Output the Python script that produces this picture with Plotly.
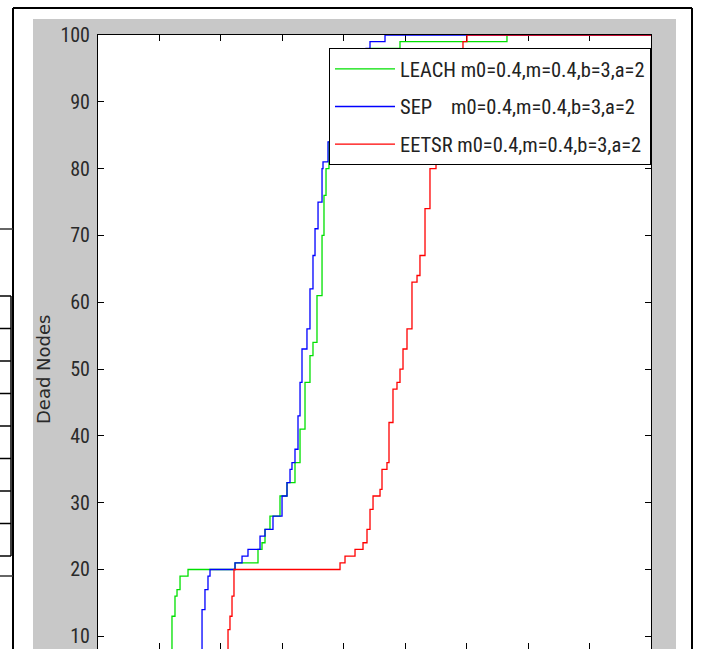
import plotly.graph_objects as go

# Simulation rounds and cumulative dead nodes for each protocol
leach_rounds = [0, 1204, 1253, 1286, 1335, 1465, 2230, 2604, 2669, 2718, 2799, 2962, 3076, 3206, 3288,
                3369, 3450, 3499, 3564, 3646, 3678, 3711, 3759, 3857, 3971, 4101, 4264, 4427, 4915, 6656, 9000]
leach_dead = [0, 13, 16, 17, 19, 20, 21, 23, 24, 26, 28, 31, 33, 36, 41,
              48, 52, 54, 61, 70, 76, 80, 84, 88, 92, 95, 97, 98, 99, 100, 100]

sep_rounds = [0, 1693, 1741, 1790, 1823, 2230, 2344, 2441, 2637, 2718, 2848, 2995, 3076, 3125, 3157, 3206, 3255,
              3288, 3320, 3401, 3450, 3499, 3532, 3581, 3646, 3662, 3743, 3825, 3971, 4134, 4264, 4362, 4427, 4671, 9000]
sep_dead = [0, 14, 17, 19, 20, 21, 22, 23, 25, 26, 28, 31, 33, 35, 36, 38, 43,
            48, 53, 56, 62, 67, 71, 75, 80, 81, 84, 87, 91, 94, 96, 98, 99, 100, 100]

eetsr_rounds = [0, 2116, 2148, 2181, 2213, 3939, 4020, 4183, 4313, 4378, 4427, 4476, 4590, 4622, 4703, 4736,
                4801, 4866, 4915, 4964, 5029, 5110, 5192, 5240, 5322, 5403, 5501, 5599, 5729, 5859, 5940, 6005, 9000]
eetsr_dead = [0, 11, 13, 16, 20, 21, 22, 23, 24, 26, 29, 31, 32, 35, 36, 42,
              47, 48, 50, 53, 56, 63, 64, 67, 74, 80, 85, 90, 94, 97, 99, 100, 100]

params = "m0=0.4,m=0.4,b=3,a=2"
series_names = ["LEACH\u00a0" + params, "SEP\u00a0\u00a0\u00a0\u00a0" + params, "EETSR\u00a0" + params]
series_colors = ["#00e000", "#0000ff", "#ff0000"]
y_ticks = [10, 20, 30, 40, 50, 60, 70, 80, 90, 100]

NARROW = "Roboto Condensed, DejaVu Sans Condensed, Liberation Sans Narrow, Arial Narrow, sans-serif"

W, H = 701, 649
L, R, T, B = 98, 50, 35, 0
PW, PH = W - L - R, H - T - B


def px(x):
    return (x - L) / PW


def py(y):
    return (H - B - y) / PH


fig = go.Figure()
series = [(leach_rounds, leach_dead), (sep_rounds, sep_dead), (eetsr_rounds, eetsr_dead)]
for i, (xs, ys) in enumerate(series):
    fig.add_trace(go.Scatter(
        x=xs, y=ys, mode="lines", name=series_names[i], legendgroup=str(i),
        line=dict(color=series_colors[i], width=1.3, shape="hv"),
    ))

shapes = []
grey = "#c8c8c8"
# figure-window grey surround of the axes
for x0, x1, y0, y1 in [(33, 98, 19, 660), (33, 676, 19, 35), (651, 676, 19, 660)]:
    shapes.append(dict(type="rect", xref="paper", yref="paper", x0=px(x0), x1=px(x1),
                       y0=py(y1), y1=py(y0), fillcolor=grey, line=dict(width=0), layer="below"))
# outer frame
for x0, y0, x1, y1 in [(13, 8, 692, 8), (13, 8, 13, 660), (692, 8, 692, 660)]:
    shapes.append(dict(type="line", xref="paper", yref="paper", x0=px(x0), x1=px(x1),
                       y0=py(y0), y1=py(y1), line=dict(color="black", width=2)))
# table rules at the left edge of the page
for yy in [229, 576]:
    shapes.append(dict(type="line", xref="paper", yref="paper", x0=px(0), x1=px(13),
                       y0=py(yy), y1=py(yy), line=dict(color="#333333", width=1.5)))
for yy in [296, 328.5, 361, 393.5, 426, 458.5, 491, 523.5, 556]:
    shapes.append(dict(type="line", xref="paper", yref="paper", x0=px(0), x1=px(11),
                       y0=py(yy), y1=py(yy), line=dict(color="black", width=1.5)))
shapes.append(dict(type="line", xref="paper", yref="paper", x0=px(11), x1=px(11),
                   y0=py(296), y1=py(556), line=dict(color="black", width=1.5)))

fig.update_layout(
    width=W, height=H,
    margin=dict(l=L, r=R, t=T, b=B, autoexpand=False),
    paper_bgcolor="white", plot_bgcolor="white",
    shapes=shapes,
    showlegend=True,
    legend=dict(
        x=1, xanchor="right", y=py(48), yanchor="top",
        bgcolor="white", bordercolor="black", borderwidth=1,
        font=dict(family=NARROW, size=20.5, color="#222222"),
        tracegroupgap=8, itemwidth=60,
    ),
    xaxis=dict(
        range=[0, 9000], dtick=1000, tick0=0, showgrid=False, zeroline=False,
        showline=True, linecolor="black", linewidth=1, mirror="ticks",
        ticks="inside", ticklen=6, tickcolor="black", showticklabels=False,
        layer="below traces",
    ),
    yaxis=dict(
        range=[8.1, 100], tickvals=y_ticks, showgrid=False, zeroline=False,
        showline=True, linecolor="black", linewidth=1, mirror="ticks",
        ticks="inside", ticklen=6, tickcolor="black", ticklabelstandoff=3,
        tickfont=dict(family=NARROW, size=20, color="#2a2a2a"),
        automargin=False, layer="below traces",
    ),
    annotations=[dict(
        text="Dead Nodes", xref="paper", yref="paper", x=px(43), y=py(370),
        textangle=-90, showarrow=False, xanchor="center", yanchor="middle",
        font=dict(family="DejaVu Sans, Arial, sans-serif", size=18, color="#2a2a2a"),
    )],
)

fig.write_html("out.html")
